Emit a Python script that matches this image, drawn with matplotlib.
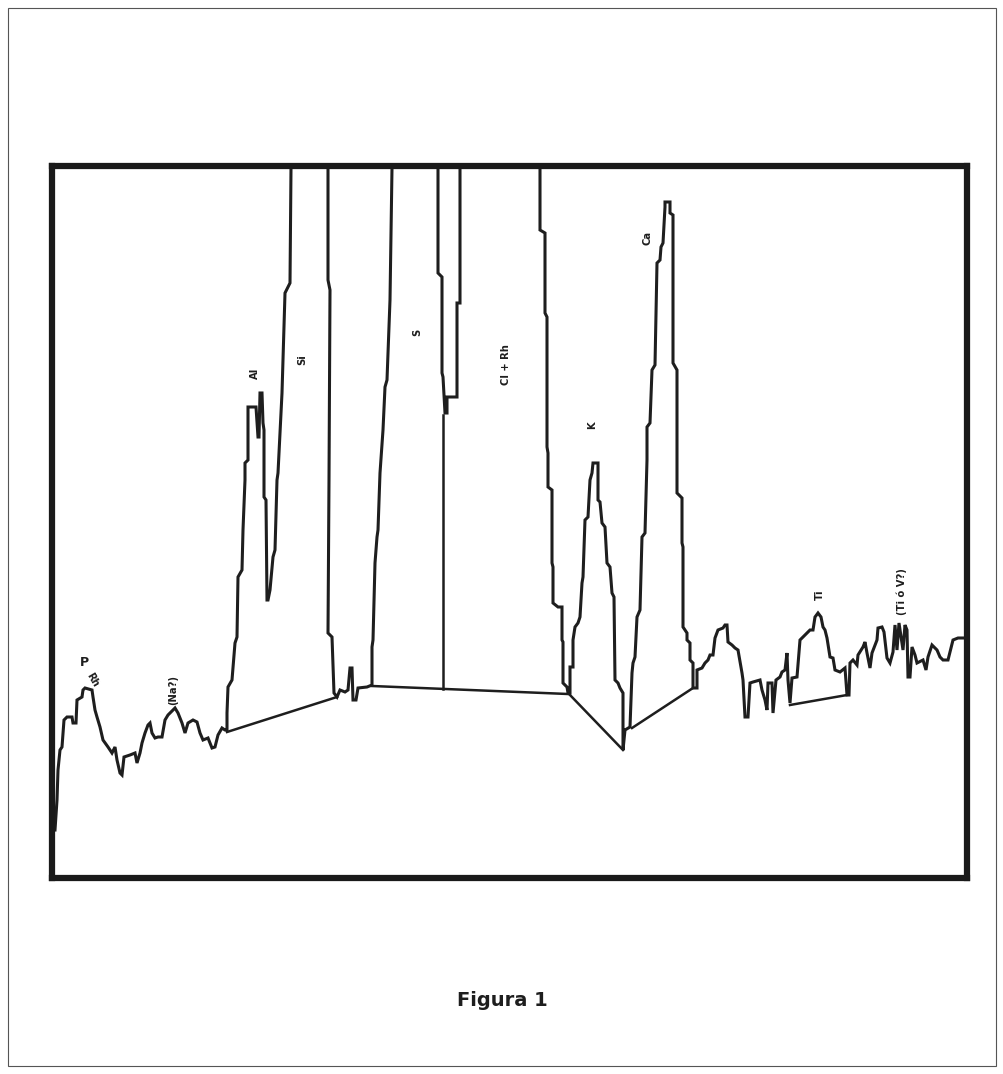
import matplotlib
matplotlib.use("Agg")
import matplotlib.pyplot as plt
from matplotlib.patches import Rectangle

# espectro: canal (eje x) y cuentas (eje y); 950 = fuera de escala
canal = [55, 57, 58, 60, 62, 64, 67, 72, 73, 76, 77, 82, 83, 85, 92, 93, 95, 97, 100, 103,
         108, 112, 115, 117, 120, 122, 124, 130, 135, 137, 140, 142, 145, 148, 150, 152, 155, 158, 162, 165,
         168, 173, 175, 178, 182, 185, 188, 193, 197, 200, 203, 208, 212, 215, 218, 222, 225, 227,
         227, 228, 232, 235, 237, 238, 242, 243, 245, 245, 248, 248, 256, 258, 259, 260, 262, 263, 264, 264,
         266, 267, 268, 270, 273, 275, 277, 278, 282, 285, 290, 291, 291,
         328, 328, 330, 329, 328, 332, 334, 337,
         340, 345, 348, 350, 352, 353, 356, 358, 367, 372,
         372, 373, 375, 377, 378, 380, 383, 385, 387, 390, 392, 392,
         438, 438, 442, 442, 443, 445, 447, 447, 457, 457, 460, 460,
         540, 540, 545, 545, 547, 547, 548, 548, 552, 552, 553, 553, 558, 562, 562, 563, 563, 567, 568, 570,
         570, 573, 573, 575, 578, 580, 582, 583, 585, 588, 590, 592, 593, 598, 598, 600, 602, 605, 607, 610,
         612, 614, 615, 618, 620, 623, 623, 625, 630,
         632, 633, 635, 637, 640, 642, 645, 647, 647, 650, 652, 655, 657, 660, 661, 663, 665, 665, 670, 670,
         673, 673, 677, 677, 682, 682, 683, 683, 687, 687, 690, 690, 693, 693, 697,
         697, 702, 705, 708, 710, 713, 715, 718, 723, 725, 727, 728, 732, 735, 738, 742, 743, 745, 748, 750,
         753, 760, 762, 765, 767, 768, 772, 773, 776, 780, 782, 785, 787, 788, 790,
         792, 797, 800, 803, 807, 810, 813, 815, 818, 821, 823, 825, 827, 830, 833, 835, 840, 845, 847, 849,
         850, 853, 857, 858, 863, 865, 867, 870, 872, 877, 878, 882, 884, 887, 890, 893, 895, 897, 899, 903,
         905, 907, 908, 910, 912, 915, 917, 923, 926, 928, 932, 937, 940, 943, 948, 950, 953, 958, 966]
cuentas = [48, 78, 108, 128, 131, 158, 161, 161, 155, 155, 178, 181, 188, 190, 188, 181, 168, 161, 151, 138,
           131, 125, 131, 118, 105, 103, 121, 123, 125, 115, 125, 135, 145, 153, 155, 145, 140, 141, 141, 158,
           163, 168, 170, 165, 155, 145, 155, 158, 156, 145, 138, 140, 130, 131, 143, 150, 148, 148,
           165, 191, 198, 235, 241, 301, 308, 348, 398, 415, 418, 471, 471, 441, 441, 485, 485, 455, 448, 381,
           378, 278, 278, 288, 321, 328, 398, 405, 485, 585, 595, 710, 950,
           950, 598, 588, 398, 245, 241, 185, 181,
           188, 186, 188, 210, 210, 178, 178, 190, 191, 193,
           231, 238, 315, 341, 348, 405, 448, 491, 498, 578, 710, 950,
           950, 605, 601, 505, 501, 465, 465, 481, 481, 575, 575, 950,
           950, 648, 645, 565, 561, 431, 425, 391, 388, 315, 311, 275, 271, 271, 238, 236, 195, 191, 185, 185,
           211, 211, 238, 251, 255, 261, 295, 301, 358, 361, 398, 405, 415, 415, 378, 376, 355, 351, 315, 311,
           285, 281, 198, 195, 190, 185, 128, 148, 151,
           205, 215, 221, 261, 268, 341, 345, 418, 451, 455, 508, 513, 615, 618, 631, 635, 671, 676, 676, 665,
           663, 515, 508, 385, 380, 335, 331, 251, 245, 238, 235, 218, 215, 190, 190,
           208, 210, 215, 218, 223, 223, 240, 248, 250, 253, 253, 236, 233, 230, 228, 205, 198, 161, 161, 195,
           196, 198, 188, 178, 168, 195, 195, 165, 198, 201, 206, 208, 225, 198, 175,
           200, 201, 238, 241, 245, 248, 248, 261, 265, 261, 251, 248, 240, 221, 220, 208, 206, 210, 183, 183,
           215, 218, 213, 223, 231, 236, 225, 210, 225, 238, 250, 251, 246, 220, 215, 226, 253, 228, 255, 228,
           253, 248, 201, 201, 231, 223, 215, 218, 208, 221, 233, 228, 221, 218, 218, 226, 238, 240, 240]

# lineas de fondo trazadas bajo los picos (inicio, fin)
fondo_x = [(227, 337), (372, 568), (443, 443), (570, 623), (632, 693), (790, 847)]
fondo_y = [(146, 181), (192, 184), (463, 189), (183, 128), (150, 190), (173, 183)]

# etiquetas de los picos
etiquetas = ["P", "Rh", "(Na?)", "Al", "Si", "S", "Cl + Rh", "K", "Ca", "Ti", "(Ti ó V?)"]
etiq_x = [84, 92, 173, 255, 302, 417, 506, 592, 648, 820, 902]
etiq_y = [215, 198, 188, 505, 518, 546, 513, 453, 640, 283, 286]
etiq_rot = [0, -60, 90, 90, 90, 90, 90, 90, 90, 90, 90]

W, H = 1004, 1074
fig = plt.figure(figsize=(W / 100, H / 100), dpi=100)
fig.patch.set_facecolor("white")

# marco fino exterior de la pagina
fig.add_artist(Rectangle((8 / W, 8 / H), 988 / W, 1058 / H, transform=fig.transFigure,
                         fill=False, edgecolor="#555555", linewidth=0.8))

ax = fig.add_axes([52 / W, 1 - 878 / H, (967 - 52) / W, (878 - 166) / H])
ax.plot(canal, cuentas, color="#1e1e1e", linewidth=2.2, solid_joinstyle="miter")
for xs, ys in zip(fondo_x, fondo_y):
    ax.plot(xs, ys, color="#1e1e1e", linewidth=1.8)

for t, x, y, r in zip(etiquetas, etiq_x, etiq_y, etiq_rot):
    fs = 9 if t == "P" else 7.2
    ax.text(x, y, t, rotation=r, ha="center", va="center", fontsize=fs,
            fontweight="bold", color="#1e1e1e", family=["DejaVu Sans"])

ax.set_xlim(52, 967)
ax.set_ylim(0, 712)
ax.set_xticks([])
ax.set_yticks([])
for s in ax.spines.values():
    s.set_linewidth(4.5)
    s.set_color("#1a1a1a")

fig.text(502 / W, 1 - 1000 / H, "Figura 1", ha="center", va="center", fontsize=14,
         fontweight="bold", color="#1e1e1e", family=["Liberation Sans Narrow", "DejaVu Sans"])

fig.savefig("out.png", dpi=100)
